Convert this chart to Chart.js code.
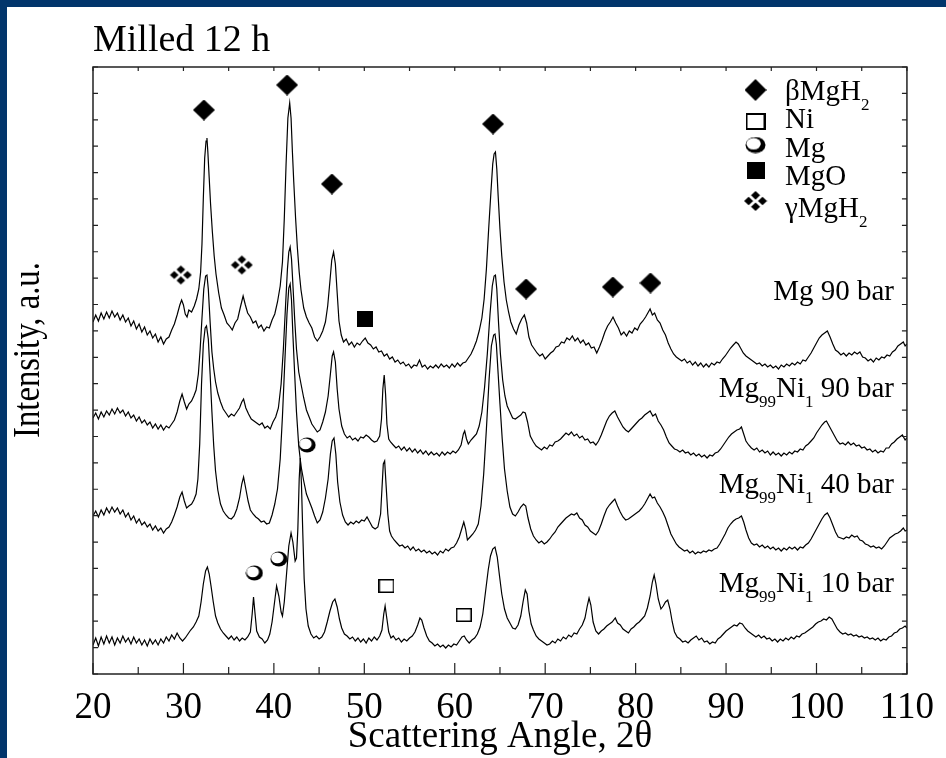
<!DOCTYPE html>
<html>
<head>
<meta charset="utf-8">
<script src="https://cdn.jsdelivr.net/npm/chart.js@4.4.1/dist/chart.umd.min.js"></script>
<style>
  html, body { margin: 0; padding: 0; width: 946px; height: 758px; overflow: hidden; background: #02356b; }
  #box { position: absolute; left: 7px; top: 7px; width: 939px; height: 751px; background: #fff; }
</style>
</head>
<body>
<div id="box"><canvas id="xrd" width="939" height="751"></canvas></div>
<script>
const SERIF = "'Liberation Serif', 'Times New Roman', serif";

// 2θ range and intensity range (a.u., 23 tick intervals on the y axis)
const xRange = [20, 110];
const yRange = [0, 607];
const yTickCount = 23;

// XRD patterns, [2θ, intensity] (offset already applied for stacking)
const mg90 = [
  [20.0,352],[20.3,359],[20.6,353],[20.9,361],[21.2,355],[21.5,362],[21.8,356],[22.1,363],[22.4,357],[22.7,361],
  [23.0,354],[23.3,359],[23.6,352],[23.9,356],[24.2,348],[24.5,353],[24.8,345],[25.1,350],[25.4,342],[25.7,347],
  [26.0,339],[26.3,343],[26.6,336],[26.9,340],[27.2,332],[27.5,337],[27.8,330],[28.1,335],[28.4,337],[28.7,344],
  [29.0,350],[29.3,359],[29.6,369],[29.8,374],[30.0,369],[30.2,360],[30.4,357],[30.6,364],[30.9,362],[31.2,368],
  [31.45,375],[31.7,385],[31.9,402],[32.05,430],[32.2,476],[32.35,516],[32.5,533],[32.6,536],[32.7,522],[32.85,496],
  [33.0,470],[33.2,442],[33.4,418],[33.6,400],[33.9,381],[34.2,366],[34.5,359],[34.8,351],[35.1,348],[35.4,344],
  [35.7,351],[36.0,355],[36.3,367],[36.6,378],[36.85,369],[37.1,361],[37.4,357],[37.7,351],[38.0,353],[38.3,346],
  [38.6,349],[38.9,343],[39.2,347],[39.5,346],[39.8,354],[40.1,360],[40.4,372],[40.7,388],[40.95,412],[41.15,455],
  [41.35,510],[41.55,556],[41.75,571],[41.9,556],[42.05,522],[42.2,492],[42.4,456],[42.6,426],[42.8,402],[43.0,384],
  [43.3,366],[43.6,357],[43.9,351],[44.2,346],[44.5,337],[44.8,333],[45.1,337],[45.4,343],[45.7,352],[45.95,368],
  [46.2,393],[46.4,414],[46.6,422],[46.8,410],[47.0,381],[47.2,353],[47.45,339],[47.7,332],[48.0,335],[48.3,329],
  [48.6,332],[48.9,327],[49.2,331],[49.5,329],[49.8,333],[50.1,336],[50.4,331],[50.7,329],[51.0,325],[51.3,327],
  [51.6,322],[51.9,323],[52.2,318],[52.5,320],[52.8,315],[53.1,317],[53.4,312],[53.7,314],[54.0,310],[54.3,312],
  [54.6,308],[54.9,310],[55.2,306],[55.5,309],[55.8,308],[56.1,314],[56.4,307],[56.7,309],[57.0,305],[57.3,308],
  [57.6,306],[57.9,309],[58.2,306],[58.5,310],[58.8,307],[59.1,309],[59.4,306],[59.7,310],[60.0,307],[60.3,311],
  [60.6,308],[60.9,311],[61.2,312],[61.5,316],[61.8,320],[62.1,326],[62.4,333],[62.7,343],[63.0,356],[63.25,375],
  [63.5,405],[63.75,445],[64.0,482],[64.2,510],[64.35,520],[64.5,522],[64.65,505],[64.8,478],[65.0,445],[65.2,418],
  [65.45,392],[65.7,374],[65.95,362],[66.2,352],[66.5,345],[66.8,340],[67.1,349],[67.4,355],[67.7,359],[67.95,351],
  [68.2,337],[68.5,329],[68.8,325],[69.1,321],[69.4,318],[69.7,320],[70.0,315],[70.3,318],[70.6,321],[70.9,323],
  [71.2,327],[71.5,328],[71.8,332],[72.1,331],[72.4,336],[72.7,334],[73.0,338],[73.3,333],[73.6,336],[73.9,331],
  [74.2,334],[74.5,329],[74.8,331],[75.1,326],[75.4,327],[75.7,321],[76.0,327],[76.3,334],[76.6,342],[76.9,348],
  [77.2,352],[77.5,357],[77.8,351],[78.1,346],[78.4,339],[78.7,342],[79.0,338],[79.3,343],[79.6,341],[79.9,346],
  [80.2,344],[80.5,350],[80.8,353],[81.1,357],[81.35,361],[81.6,365],[81.85,359],[82.1,361],[82.4,354],[82.7,351],
  [83.0,344],[83.3,339],[83.6,331],[83.9,325],[84.2,320],[84.5,317],[84.8,315],[85.1,313],[85.4,315],[85.7,311],
  [86.0,313],[86.3,309],[86.6,312],[86.9,308],[87.2,311],[87.5,307],[87.8,310],[88.1,307],[88.4,311],[88.7,309],
  [89.0,312],[89.3,311],[89.6,315],[89.9,318],[90.2,322],[90.5,326],[90.8,329],[91.1,332],[91.35,330],[91.6,326],
  [91.9,321],[92.2,318],[92.5,316],[92.8,314],[93.1,312],[93.4,310],[93.7,311],[94.0,308],[94.3,310],[94.6,307],
  [94.9,309],[95.2,306],[95.5,308],[95.8,305],[96.1,309],[96.4,307],[96.7,310],[97.0,308],[97.3,311],[97.6,309],
  [97.9,312],[98.2,310],[98.5,314],[98.8,313],[99.1,317],[99.4,321],[99.7,326],[100.0,331],[100.3,336],[100.6,339],
  [100.9,341],[101.2,343],[101.5,337],[101.8,330],[102.1,324],[102.4,322],[102.7,319],[103.0,321],[103.3,318],[103.6,321],
  [103.9,319],[104.2,322],[104.5,320],[104.8,322],[105.1,317],[105.4,316],[105.7,313],[106.0,315],[106.3,312],[106.6,316],
  [106.9,314],[107.2,317],[107.5,316],[107.8,319],[108.1,318],[108.4,322],[108.7,324],[109.0,328],[109.3,330],[109.6,332],
  [109.8,328],[110.0,330]
];

const mg99ni1_90 = [
  [20.0,256],[20.3,261],[20.6,255],[20.9,262],[21.2,257],[21.5,263],[21.8,259],[22.1,265],[22.4,260],[22.7,266],
  [23.0,261],[23.3,264],[23.6,258],[23.9,262],[24.2,256],[24.5,259],[24.8,253],[25.1,257],[25.4,251],[25.7,254],
  [26.0,249],[26.3,252],[26.6,246],[26.9,250],[27.2,245],[27.5,249],[27.8,244],[28.1,248],[28.4,246],[28.7,250],
  [29.0,254],[29.3,262],[29.6,273],[29.85,280],[30.1,272],[30.35,265],[30.6,270],[30.9,273],[31.15,278],[31.4,284],
  [31.65,300],[31.85,325],[32.05,356],[32.25,385],[32.45,398],[32.6,399],[32.75,385],[32.95,352],[33.15,322],[33.35,305],
  [33.55,292],[33.8,281],[34.1,272],[34.4,265],[34.7,261],[35.0,257],[35.3,260],[35.6,258],[35.9,262],[36.2,266],
  [36.45,272],[36.65,275],[36.9,266],[37.2,260],[37.5,255],[37.8,253],[38.1,251],[38.4,249],[38.7,251],[39.0,246],
  [39.3,248],[39.6,245],[39.9,252],[40.2,257],[40.5,266],[40.8,290],[41.05,325],[41.3,370],[41.5,405],[41.65,422],
  [41.8,427],[41.95,415],[42.1,390],[42.3,355],[42.5,325],[42.75,302],[43.0,290],[43.3,276],[43.6,264],[43.9,257],
  [44.2,250],[44.5,246],[44.8,242],[45.1,244],[45.4,252],[45.7,262],[46.0,278],[46.25,300],[46.45,318],[46.6,322],
  [46.8,312],[47.0,285],[47.2,265],[47.5,248],[47.8,240],[48.1,236],[48.4,238],[48.7,234],[49.0,236],[49.3,233],
  [49.6,237],[49.9,236],[50.2,239],[50.5,237],[50.8,234],[51.1,232],[51.4,233],[51.7,238],[51.9,255],[52.05,285],
  [52.2,299],[52.35,280],[52.5,250],[52.7,235],[52.9,232],[53.2,229],[53.5,226],[53.8,228],[54.1,224],[54.4,227],
  [54.7,223],[55.0,226],[55.3,222],[55.6,225],[55.9,221],[56.2,224],[56.5,220],[56.8,223],[57.1,219],[57.4,222],
  [57.7,219],[58.0,221],[58.3,218],[58.6,222],[58.9,219],[59.2,222],[59.5,220],[59.8,223],[60.1,221],[60.4,224],
  [60.7,229],[60.95,240],[61.1,243],[61.3,235],[61.5,230],[61.8,234],[62.1,237],[62.4,240],[62.7,248],[63.0,262],
  [63.3,287],[63.6,320],[63.9,360],[64.15,388],[64.35,398],[64.5,399],[64.65,385],[64.85,350],[65.05,320],[65.3,294],
  [65.55,278],[65.8,268],[66.1,262],[66.4,256],[66.7,255],[67.0,257],[67.3,259],[67.55,262],[67.8,261],[68.05,252],
  [68.35,238],[68.7,232],[69.0,228],[69.3,226],[69.6,224],[69.9,227],[70.2,225],[70.5,229],[70.8,228],[71.1,232],
  [71.4,233],[71.7,235],[72.0,238],[72.3,241],[72.6,239],[72.9,242],[73.2,238],[73.5,240],[73.8,236],[74.1,238],
  [74.4,234],[74.7,235],[75.0,231],[75.3,232],[75.6,229],[75.9,233],[76.2,239],[76.5,246],[76.8,253],[77.1,258],
  [77.4,261],[77.7,263],[78.0,257],[78.3,252],[78.6,247],[78.9,244],[79.2,242],[79.5,245],[79.8,248],[80.1,251],
  [80.4,254],[80.7,256],[81.0,259],[81.3,261],[81.6,263],[81.9,258],[82.2,260],[82.5,253],[82.8,249],[83.1,244],
  [83.4,237],[83.7,231],[84.0,228],[84.3,225],[84.6,224],[84.9,222],[85.2,224],[85.5,221],[85.8,222],[86.1,219],
  [86.4,221],[86.7,218],[87.0,220],[87.3,217],[87.6,219],[87.9,216],[88.2,219],[88.5,218],[88.8,221],[89.1,222],
  [89.4,225],[89.7,229],[90.0,233],[90.3,237],[90.6,240],[90.9,242],[91.2,244],[91.5,245],[91.7,247],[91.95,240],
  [92.2,233],[92.5,229],[92.8,226],[93.1,224],[93.4,226],[93.7,222],[94.0,224],[94.3,221],[94.6,223],[94.9,219],
  [95.2,222],[95.5,219],[95.8,221],[96.1,218],[96.4,221],[96.7,219],[97.0,222],[97.3,220],[97.6,223],[97.9,222],
  [98.2,225],[98.5,224],[98.8,228],[99.1,230],[99.4,233],[99.7,236],[100.0,241],[100.3,245],[100.6,249],[100.9,252],
  [101.1,253],[101.4,248],[101.7,243],[102.0,238],[102.3,233],[102.6,230],[102.9,231],[103.2,229],[103.5,232],[103.8,229],
  [104.1,231],[104.4,228],[104.7,229],[105.0,226],[105.3,227],[105.6,224],[105.9,225],[106.2,222],[106.5,224],[106.8,221],
  [107.1,223],[107.4,222],[107.7,226],[108.0,226],[108.3,230],[108.6,232],[108.9,235],[109.2,237],[109.5,239],[109.8,234],
  [110.0,236]
];

const mg99ni1_40 = [
  [20.0,158],[20.3,163],[20.6,157],[20.9,164],[21.2,159],[21.5,166],[21.8,161],[22.1,167],[22.4,162],[22.7,166],
  [23.0,160],[23.3,164],[23.6,157],[23.9,161],[24.2,154],[24.5,158],[24.8,151],[25.1,155],[25.4,149],[25.7,152],
  [26.0,147],[26.3,150],[26.6,144],[26.9,148],[27.2,143],[27.5,146],[27.8,141],[28.1,145],[28.4,147],[28.7,152],
  [29.0,159],[29.3,167],[29.6,177],[29.85,182],[30.1,173],[30.35,166],[30.6,168],[30.9,170],[31.15,174],[31.4,180],
  [31.6,195],[31.8,230],[32.0,290],[32.2,330],[32.4,346],[32.55,348],[32.75,335],[32.95,300],[33.15,262],[33.35,228],
  [33.55,203],[33.8,184],[34.1,170],[34.4,163],[34.7,159],[35.0,156],[35.3,155],[35.6,158],[35.9,165],[36.2,176],
  [36.45,190],[36.65,197],[36.9,185],[37.15,173],[37.4,164],[37.7,160],[38.0,157],[38.3,155],[38.6,152],[38.9,153],
  [39.2,150],[39.5,151],[39.8,159],[40.1,170],[40.4,185],[40.7,215],[40.95,258],[41.2,310],[41.45,360],[41.65,386],
  [41.8,390],[41.95,374],[42.1,340],[42.3,300],[42.5,262],[42.75,228],[43.0,208],[43.3,193],[43.6,180],[43.9,173],
  [44.2,166],[44.5,158],[44.8,151],[45.1,154],[45.4,162],[45.7,176],[46.0,195],[46.25,220],[46.45,233],[46.65,236],
  [46.85,220],[47.05,192],[47.3,172],[47.6,159],[47.9,152],[48.2,149],[48.5,152],[48.8,150],[49.1,153],[49.4,151],
  [49.7,154],[50.0,153],[50.3,157],[50.6,152],[50.9,147],[51.2,145],[51.5,147],[51.8,160],[51.95,185],[52.1,210],
  [52.25,213],[52.4,190],[52.6,160],[52.8,143],[53.0,138],[53.3,134],[53.6,131],[53.9,128],[54.2,129],[54.5,126],
  [54.8,128],[55.1,124],[55.4,127],[55.7,123],[56.0,125],[56.3,122],[56.6,124],[56.9,121],[57.2,123],[57.5,120],
  [57.8,122],[58.1,119],[58.4,123],[58.7,121],[59.0,125],[59.3,123],[59.6,126],[59.9,127],[60.2,131],[60.5,137],
  [60.8,146],[61.0,152],[61.2,145],[61.4,134],[61.7,137],[62.0,140],[62.3,144],[62.6,150],[62.9,168],[63.2,200],
  [63.5,245],[63.8,295],[64.05,328],[64.3,339],[64.45,340],[64.6,330],[64.8,300],[65.0,270],[65.25,235],[65.5,205],
  [65.8,183],[66.1,167],[66.4,160],[66.7,158],[67.0,162],[67.3,167],[67.6,170],[67.85,168],[68.1,156],[68.4,145],
  [68.7,138],[69.0,134],[69.3,131],[69.6,133],[69.9,130],[70.2,132],[70.5,135],[70.8,139],[71.1,142],[71.4,147],
  [71.7,150],[72.0,153],[72.3,156],[72.6,158],[72.9,160],[73.2,159],[73.5,161],[73.8,156],[74.1,154],[74.4,149],
  [74.7,147],[75.0,143],[75.3,141],[75.6,139],[75.9,143],[76.2,150],[76.5,158],[76.8,165],[77.1,169],[77.4,172],
  [77.7,175],[78.0,168],[78.3,162],[78.6,157],[78.9,154],[79.2,155],[79.5,157],[79.8,159],[80.1,161],[80.4,163],
  [80.7,166],[81.0,170],[81.3,175],[81.6,180],[81.85,176],[82.1,177],[82.4,171],[82.7,167],[83.0,162],[83.3,156],
  [83.6,148],[83.9,140],[84.2,135],[84.5,130],[84.8,127],[85.1,125],[85.4,123],[85.7,124],[86.0,121],[86.3,123],
  [86.6,120],[86.9,122],[87.2,121],[87.5,123],[87.8,122],[88.1,124],[88.4,123],[88.7,125],[89.0,126],[89.3,130],
  [89.6,135],[89.9,140],[90.2,146],[90.5,150],[90.8,153],[91.1,155],[91.4,156],[91.7,158],[91.95,152],[92.2,144],
  [92.5,136],[92.8,131],[93.1,129],[93.4,130],[93.7,127],[94.0,129],[94.3,126],[94.6,128],[94.9,125],[95.2,127],
  [95.5,124],[95.8,126],[96.1,123],[96.4,126],[96.7,124],[97.0,127],[97.3,125],[97.6,127],[97.9,124],[98.2,127],
  [98.5,126],[98.8,129],[99.1,131],[99.4,135],[99.7,140],[100.0,145],[100.3,150],[100.6,155],[100.9,159],[101.2,161],
  [101.5,156],[101.8,149],[102.1,142],[102.4,137],[102.7,136],[103.0,135],[103.3,137],[103.6,136],[103.9,139],[104.2,137],
  [104.5,138],[104.8,134],[105.1,133],[105.4,130],[105.7,129],[106.0,127],[106.3,128],[106.6,126],[106.9,127],[107.2,125],
  [107.5,128],[107.8,132],[108.1,136],[108.4,138],[108.7,140],[109.0,141],[109.3,143],[109.6,146],[109.8,143],[110.0,144]
];

const mg99ni1_10 = [
  [20.0,29],[20.3,36],[20.6,28],[20.9,37],[21.2,30],[21.5,38],[21.8,31],[22.1,37],[22.4,29],[22.7,36],
  [23.0,31],[23.3,38],[23.6,32],[23.9,36],[24.2,30],[24.5,37],[24.8,31],[25.1,35],[25.4,29],[25.7,34],
  [26.0,28],[26.3,35],[26.6,30],[26.9,34],[27.2,29],[27.5,35],[27.8,31],[28.1,37],[28.4,33],[28.7,39],
  [29.0,35],[29.3,41],[29.6,36],[29.9,33],[30.2,36],[30.5,40],[30.8,44],[31.1,47],[31.4,52],[31.7,58],
  [31.95,72],[32.2,90],[32.45,103],[32.65,107],[32.85,100],[33.05,88],[33.3,72],[33.55,58],[33.8,51],[34.1,45],
  [34.4,41],[34.7,38],[35.0,35],[35.3,38],[35.6,34],[35.9,37],[36.2,33],[36.5,36],[36.8,34],[37.1,37],
  [37.4,42],[37.6,60],[37.75,77],[37.9,62],[38.1,43],[38.4,37],[38.7,35],[39.0,31],[39.3,34],[39.55,40],
  [39.8,52],[40.05,70],[40.3,88],[40.55,78],[40.8,62],[40.95,58],[41.15,72],[41.4,100],[41.65,128],[41.9,141],
  [42.1,132],[42.35,113],[42.5,116],[42.65,145],[42.8,195],[42.92,216],[43.05,190],[43.2,140],[43.35,95],[43.55,65],
  [43.8,48],[44.1,40],[44.4,36],[44.7,38],[45.0,35],[45.3,37],[45.6,42],[45.9,52],[46.2,63],[46.5,72],
  [46.75,75],[47.0,67],[47.25,55],[47.5,46],[47.8,40],[48.1,38],[48.4,35],[48.7,37],[49.0,33],[49.3,36],
  [49.6,32],[49.9,35],[50.2,31],[50.5,36],[50.8,33],[51.1,37],[51.4,34],[51.7,38],[51.95,44],[52.15,60],
  [52.3,68],[52.5,55],[52.7,42],[52.95,36],[53.2,38],[53.5,34],[53.8,36],[54.1,32],[54.4,35],[54.7,33],
  [55.0,36],[55.3,38],[55.6,42],[55.9,49],[56.15,56],[56.35,54],[56.6,46],[56.9,38],[57.2,33],[57.5,31],
  [57.8,28],[58.1,30],[58.4,27],[58.7,29],[59.0,26],[59.3,29],[59.6,27],[59.9,30],[60.2,29],[60.5,33],
  [60.8,37],[61.05,38],[61.3,34],[61.6,31],[61.9,34],[62.2,36],[62.5,40],[62.8,47],[63.1,60],[63.4,82],
  [63.7,104],[63.95,118],[64.2,125],[64.45,127],[64.7,117],[64.95,98],[65.2,80],[65.5,65],[65.8,56],[66.1,51],
  [66.4,46],[66.7,45],[67.0,49],[67.3,58],[67.55,72],[67.8,84],[68.0,80],[68.2,63],[68.45,50],[68.7,44],
  [69.0,38],[69.3,35],[69.6,33],[69.9,31],[70.2,29],[70.5,30],[70.8,33],[71.1,31],[71.4,35],[71.7,33],
  [72.0,37],[72.3,35],[72.6,39],[72.9,37],[73.2,41],[73.5,40],[73.8,45],[74.1,49],[74.4,56],[74.65,68],
  [74.85,76],[75.05,69],[75.3,52],[75.6,43],[75.9,40],[76.2,43],[76.5,45],[76.8,48],[77.1,50],[77.4,52],
  [77.75,56],[78.0,51],[78.3,49],[78.6,45],[78.9,43],[79.2,41],[79.5,45],[79.8,47],[80.1,50],[80.4,52],
  [80.7,55],[81.0,58],[81.3,66],[81.6,78],[81.85,92],[82.05,99],[82.25,90],[82.5,75],[82.8,65],[83.05,68],
  [83.3,72],[83.55,74],[83.8,65],[84.05,52],[84.3,42],[84.6,37],[84.9,35],[85.2,32],[85.5,33],[85.8,31],
  [86.1,34],[86.4,36],[86.7,38],[87.0,34],[87.3,36],[87.6,32],[87.9,33],[88.2,30],[88.5,32],[88.8,31],
  [89.1,35],[89.4,37],[89.7,40],[90.0,43],[90.3,45],[90.6,47],[90.9,49],[91.2,48],[91.5,51],[91.8,50],
  [92.1,46],[92.4,43],[92.7,41],[93.0,39],[93.3,37],[93.6,39],[93.9,36],[94.2,38],[94.5,35],[94.8,36],
  [95.1,33],[95.4,35],[95.7,32],[96.0,35],[96.3,33],[96.6,36],[96.9,34],[97.2,37],[97.5,35],[97.8,38],
  [98.1,37],[98.4,40],[98.7,41],[99.0,43],[99.3,45],[99.6,47],[99.9,50],[100.2,52],[100.5,53],[100.8,55],
  [101.1,54],[101.4,57],[101.7,55],[102.0,50],[102.3,45],[102.6,42],[102.9,40],[103.2,41],[103.5,39],[103.8,40],
  [104.1,38],[104.4,39],[104.7,37],[105.0,38],[105.3,36],[105.6,37],[105.9,35],[106.2,36],[106.5,34],[106.8,36],
  [107.1,33],[107.4,35],[107.7,34],[108.0,37],[108.3,38],[108.6,41],[108.9,42],[109.2,45],[109.5,46],[109.8,48],
  [110.0,46]
];

// phase markers placed above the peaks, [2θ, intensity]
const betaMgH2Marks = [[32.26,564],[41.46,589],[46.42,490],[64.23,550],[67.89,385],[77.48,387],[81.64,391]];
const gammaMgH2Marks = [[29.71,399],[36.46,409]];
const mgoMarks = [[50.07,355]];
const mgMarks = [[43.68,229],[40.55,115],[37.85,101]];
const niMarks = [[52.45,88],[61.0,59]];

// small canvases used as point styles
function glyph(w, h, draw) {
  const c = document.createElement("canvas");
  c.width = w; c.height = h;
  draw(c.getContext("2d"), w, h);
  return c;
}
function diamondAt(g, cx, cy, hw, hh) {
  g.beginPath();
  g.moveTo(cx, cy - hh); g.lineTo(cx + hw, cy); g.lineTo(cx, cy + hh); g.lineTo(cx - hw, cy);
  g.closePath(); g.fill();
}
const diamondImg = (w, h) => glyph(w, h, (g) => { g.fillStyle = "#000"; diamondAt(g, w / 2, h / 2, w / 2, h / 2); });
const clusterImg = (s) => glyph(23 * s, 21 * s, (g, w, h) => {
  g.fillStyle = "#000";
  const cx = w / 2, cy = h / 2, hw = 4.3 * s, hh = 4.1 * s;
  diamondAt(g, cx, cy - 5.4 * s, hw, hh);
  diamondAt(g, cx - 6.6 * s, cy, hw, hh);
  diamondAt(g, cx + 6.6 * s, cy, hw, hh);
  diamondAt(g, cx, cy + 5.4 * s, hw, hh);
});
const ringImg = (w, h) => glyph(w, h, (g) => {
  g.fillStyle = "#000";
  g.beginPath(); g.ellipse(w / 2, h / 2, w / 2 - 0.5, h / 2 - 0.5, 0, 0, Math.PI * 2); g.fill();
  g.fillStyle = "#fff";
  g.beginPath(); g.ellipse(w / 2 - w * 0.09, h / 2 - h * 0.07, w / 2 - w * 0.16, h / 2 - h * 0.16, 0, 0, Math.PI * 2); g.fill();
});
const openSquareImg = (w, h, lw) => glyph(w, h, (g) => {
  g.fillStyle = "#fff"; g.fillRect(0, 0, w, h);
  g.strokeStyle = "#000"; g.lineWidth = lw;
  g.strokeRect(lw / 2, lw / 2, w - lw, h - lw);
});
const solidSquareImg = (w, h) => glyph(w, h, (g) => { g.fillStyle = "#000"; g.fillRect(0, 0, w, h); });

const imgs = {
  beta: diamondImg(22, 21), gamma: clusterImg(1), mgo: solidSquareImg(16, 16),
  mg: ringImg(18, 16), ni: openSquareImg(16, 14, 1.5)
};
const legendItems = [
  { img: diamondImg(22, 22), parts: [["βMgH"], ["2", true]] },
  { img: openSquareImg(20, 17, 2), parts: [["Ni"]] },
  { img: ringImg(21, 17), parts: [["Mg"]] },
  { img: solidSquareImg(18, 17), parts: [["MgO"]] },
  { img: clusterImg(1.05), parts: [["γMgH"], ["2", true]] }
];
const seriesLabels = [
  [["Mg 90 bar"]],
  [["Mg"], ["99", true], ["Ni"], ["1", true], [" 90 bar"]],
  [["Mg"], ["99", true], ["Ni"], ["1", true], [" 40 bar"]],
  [["Mg"], ["99", true], ["Ni"], ["1", true], [" 10 bar"]]
];

const MAIN_FONT = "29px " + SERIF;
const SUB_FONT = "17px " + SERIF;

function drawRich(ctx, parts, x, y, align) {
  const widths = parts.map(p => { ctx.font = p[1] ? SUB_FONT : MAIN_FONT; return ctx.measureText(p[0]).width; });
  let cx = align === "right" ? x - widths.reduce((a, b) => a + b, 0) : x;
  ctx.textAlign = "left";
  ctx.textBaseline = "alphabetic";
  parts.forEach((p, i) => {
    ctx.font = p[1] ? SUB_FONT : MAIN_FONT;
    ctx.fillText(p[0], cx, p[1] ? y + 10 : y);
    cx += widths[i];
  });
}

const axesDeco = {
  id: "axesDeco",
  afterDatasetsDraw(chart) {
    const { ctx, chartArea: a, scales: { x, y } } = chart;
    ctx.save();
    ctx.strokeStyle = "#222";
    ctx.lineWidth = 1.2;
    ctx.beginPath();
    x.ticks.forEach(t => {
      const p = x.getPixelForValue(t.value);
      ctx.moveTo(p, a.bottom); ctx.lineTo(p, a.bottom - 11);
      ctx.moveTo(p, a.top); ctx.lineTo(p, a.top + 4);
      if (t.value + 5 < xRange[1]) {
        const m = x.getPixelForValue(t.value + 5);
        ctx.moveTo(m, a.bottom); ctx.lineTo(m, a.bottom - 7);
        ctx.moveTo(m, a.top); ctx.lineTo(m, a.top + 4);
      }
    });
    y.ticks.forEach(t => {
      const p = y.getPixelForValue(t.value);
      ctx.moveTo(a.left, p); ctx.lineTo(a.left + 5, p);
      ctx.moveTo(a.right, p); ctx.lineTo(a.right - 5, p);
    });
    ctx.stroke();
    ctx.lineWidth = 1.5;
    ctx.strokeRect(a.left, a.top, a.right - a.left, a.bottom - a.top);
    ctx.restore();
  },
  afterDraw(chart) {
    const { ctx } = chart;
    ctx.save();
    ctx.fillStyle = "#000";
    // title
    ctx.font = "38px " + SERIF;
    ctx.textAlign = "left";
    ctx.textBaseline = "alphabetic";
    ctx.fillText("Milled 12 h", 86, 44);
    // y axis title
    ctx.save();
    ctx.translate(32, 343);
    ctx.rotate(-Math.PI / 2);
    ctx.scale(0.86, 1);
    ctx.textAlign = "center";
    ctx.font = "38px " + SERIF;
    ctx.fillText("Intensity, a.u.", 0, 0);
    ctx.restore();
    // legend
    const legendY = [83, 114.5, 138, 163, 194];
    const legendBase = [93, 121, 149.5, 178, 209.5];
    legendItems.forEach((it, i) => {
      ctx.drawImage(it.img, 748.5 - it.img.width / 2, legendY[i] - it.img.height / 2);
      drawRich(ctx, it.parts, 778, legendBase[i], "left");
    });
    // series labels
    const labelBase = [293, 390, 486, 585];
    seriesLabels.forEach((parts, i) => drawRich(ctx, parts, 887, labelBase[i], "right"));
    ctx.restore();
  }
};

const trace = (data) => ({ data, showLine: true, borderColor: "#000", borderWidth: 1.2, pointRadius: 0, tension: 0 });
const marks = (data, img) => ({ data, showLine: false, pointStyle: img, pointRadius: 6, pointHoverRadius: 6 });

new Chart(document.getElementById("xrd"), {
  type: "scatter",
  data: {
    datasets: [
      marks(betaMgH2Marks, imgs.beta),
      marks(gammaMgH2Marks, imgs.gamma),
      marks(mgoMarks, imgs.mgo),
      marks(mgMarks, imgs.mg),
      marks(niMarks, imgs.ni),
      trace(mg90),
      trace(mg99ni1_90),
      trace(mg99ni1_40),
      trace(mg99ni1_10)
    ]
  },
  options: {
    responsive: false,
    animation: false,
    devicePixelRatio: 1,
    events: [],
    layout: { padding: { top: 60, right: 31, left: 0, bottom: 0 } },
    plugins: { legend: { display: false }, tooltip: { enabled: false } },
    scales: {
      x: {
        type: "linear", min: xRange[0], max: xRange[1],
        grid: { display: false, drawTicks: false },
        border: { display: false },
        ticks: { stepSize: 10, autoSkip: false, maxRotation: 0, padding: 12, color: "#000", font: { family: SERIF, size: 37 } },
        title: { display: true, text: "Scattering Angle, 2θ", color: "#000", font: { family: SERIF, size: 37, lineHeight: 1 }, padding: { top: 0, bottom: 2 } },
        afterFit: (s) => { s.height = 84; }
      },
      y: {
        type: "linear", min: yRange[0], max: yRange[1],
        grid: { display: false, drawTicks: false },
        border: { display: false },
        ticks: { display: false, stepSize: (yRange[1] - yRange[0]) / yTickCount },
        afterFit: (s) => { s.width = 86; }
      }
    }
  },
  plugins: [axesDeco]
});
</script>
</body>
</html>
